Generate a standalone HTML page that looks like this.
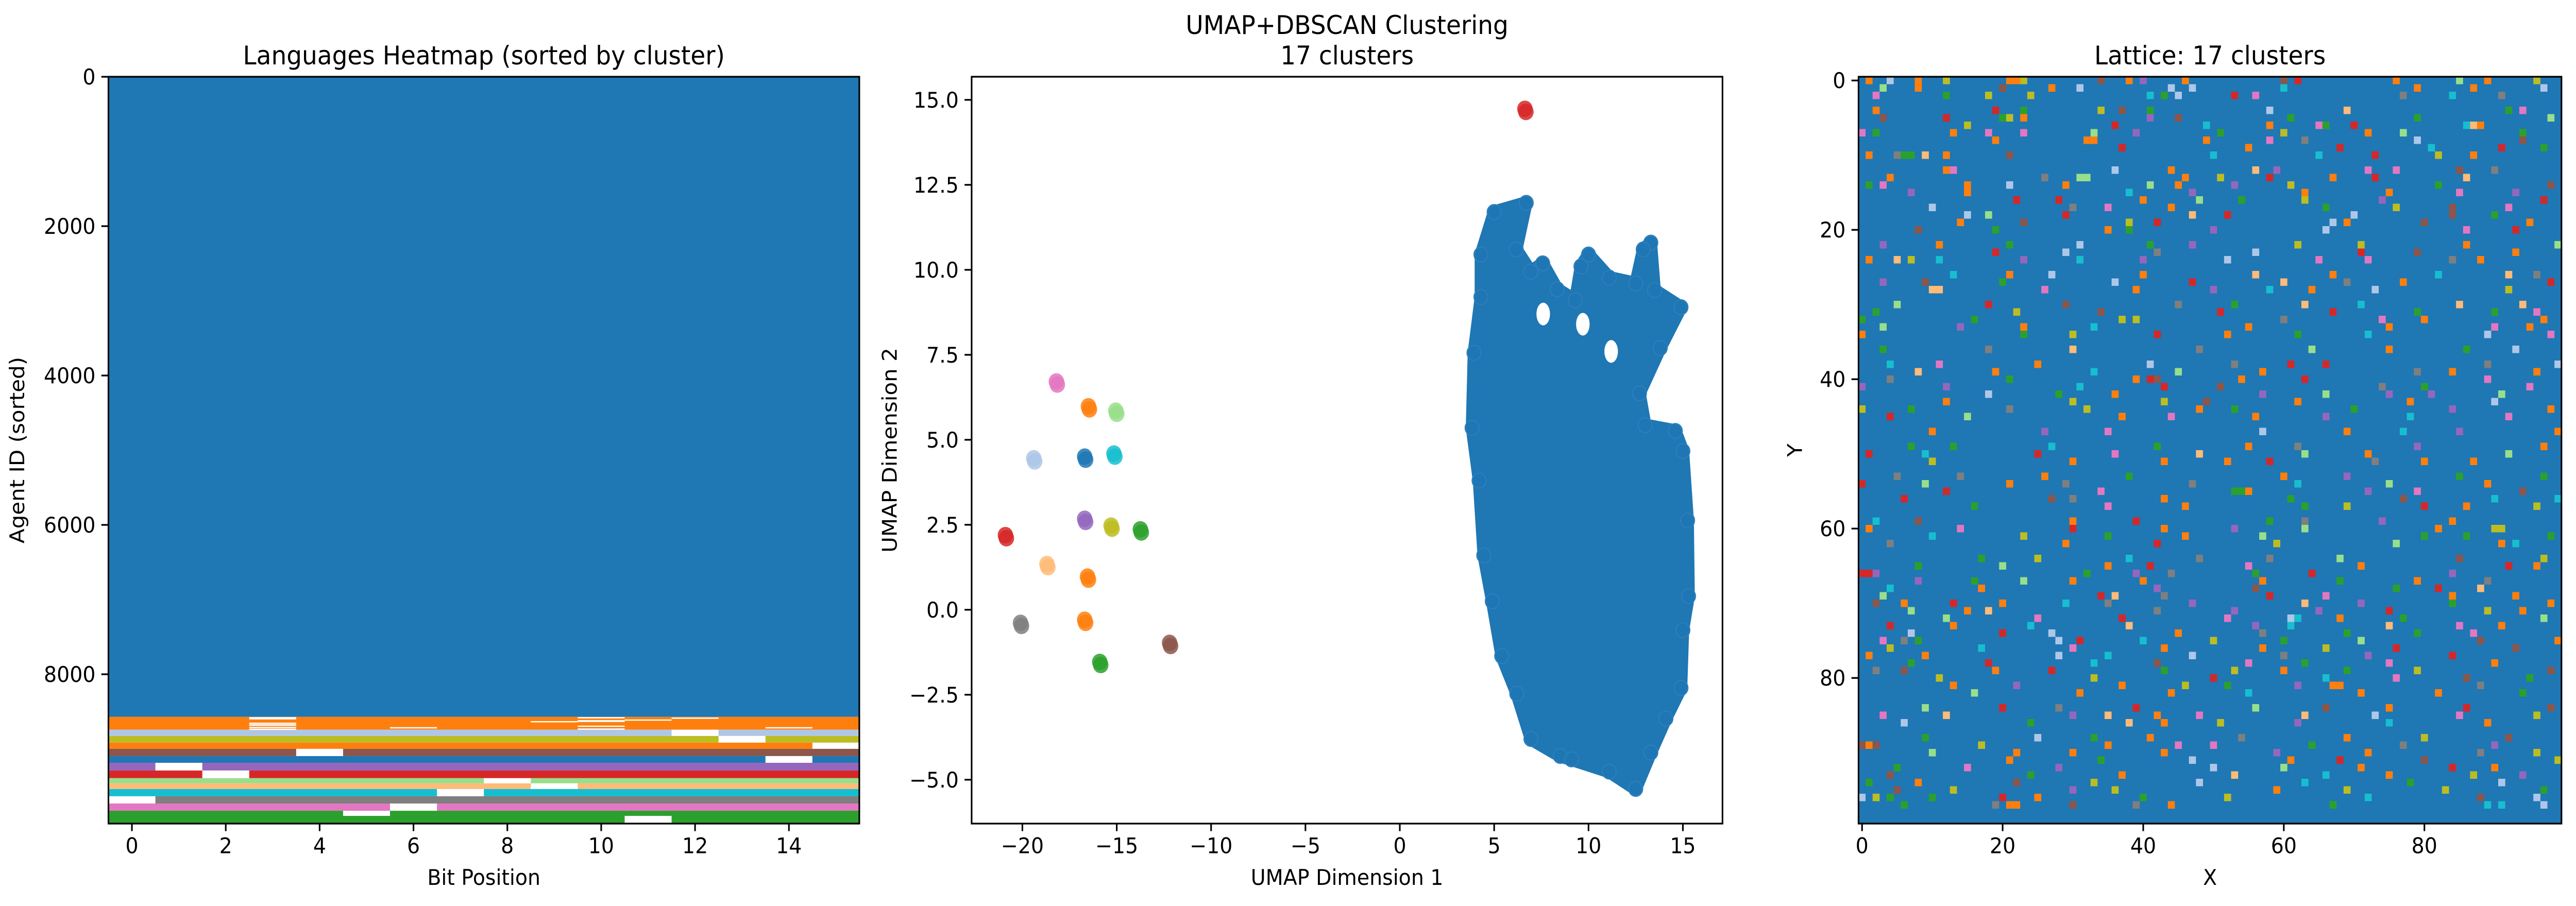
<!DOCTYPE html>
<html><head><meta charset="utf-8"><title>Clustering figure</title>
<style>
html,body{margin:0;padding:0;background:#fff;overflow:hidden;width:100vw;height:100vh;}
svg{display:block;width:100vw;height:100vh;}
text{font-family:"DejaVu Sans","Liberation Sans",sans-serif;fill:#000;}
</style></head>
<body>
<svg id="fig" xmlns="http://www.w3.org/2000/svg" width="5321" height="1759" viewBox="0 0 5321 1759" preserveAspectRatio="none">
<rect x="0" y="0" width="5321" height="1759" fill="#fff"/>
<g id="heat"></g>
<g id="scat"></g>
<g id="latt"></g>
<g id="axes"></g>
</svg>
<script>
// ---------- heatmap data ----------
const bandRows = [8571,172,83,90,83,97,90,103,103,69,76,97,97,97,172];
const bandColors = ["#1f77b4","#ff7f0e","#aec7e8","#bcbd22","#ff7f0e","#8c564b","#1f77b4","#9467bd","#d62728","#98df8a","#ffbb78","#17becf","#7f7f7f","#e377c2","#2ca02c"];
// [bandIndex, bit, startFrac, endFrac]
const zeroBits = [[2,12,0,1],[3,13,0,1],[4,15,0,1],[5,4,0,1],[6,14,0,1],[7,1,0,1],[8,2,0,1],[9,8,0,1],[10,9,0,1],[11,7,0,1],[12,0,0,1],[13,6,0,1],[14,5,0,0.4],[14,11,0.4,1],
 [1,3,0.02,0.06],[1,3,0.1,0.2],[1,3,0.45,0.5],[1,3,0.58,0.7],[1,3,0.78,0.82],[1,3,0.92,0.96],[1,10,0.02,0.06],[1,10,0.25,0.4],[1,10,0.68,0.74],[1,10,0.9,0.94],[1,11,0.2,0.23],[1,12,0.05,0.08],[1,9,0.33,0.36],[1,6,0.8,0.83],[1,14,0.8,0.83]];
const heatXTicks = [0,2,4,6,8,10,12,14];
const heatYTicks = [0,2000,4000,6000,8000];
// ---------- scatter data ----------
const blobX = [6.7,5.0,4.3,4.3,3.93,3.83,4.2,4.45,4.9,5.4,6.2,6.95,8.5,9.1,11.1,12.5,13.3,14.1,14.9,15.0,15.3,15.25,15.0,14.6,13.0,12.7,13.8,14.9,13.5,13.3,12.9,12.5,11.1,10.0,9.6,9.3,8.34,7.57,6.94,6.17];
const blobY = [11.97,11.7,10.45,9.2,7.56,5.35,3.8,1.6,0.25,-1.36,-2.47,-3.8,-4.3,-4.4,-4.76,-5.27,-4.2,-3.2,-2.3,-0.6,0.4,2.63,4.67,5.26,5.43,6.37,7.7,8.9,9.4,10.8,10.6,9.6,9.77,10.45,10.1,9.1,9.43,10.19,9.94,10.6];
const holeX = [7.6,9.7,11.2];
const holeY = [8.7,8.4,7.6];
const clusterX = [6.63,-18.2,-16.5,-15.05,-19.4,-16.7,-15.15,-20.9,-16.7,-15.3,-13.75,-18.7,-16.55,-20.1,-16.7,-12.2,-15.9];
const clusterY = [14.69,6.67,5.94,5.81,4.41,4.46,4.55,2.15,2.63,2.43,2.32,1.3,0.93,-0.43,-0.34,-1.02,-1.58];
const clusterColor = ["#d62728","#e377c2","#ff7f0e","#98df8a","#aec7e8","#1f77b4","#17becf","#d62728","#9467bd","#bcbd22","#2ca02c","#ffbb78","#ff7f0e","#7f7f7f","#ff7f0e","#8c564b","#2ca02c"];
const scatXTicks = [-20,-15,-10,-5,0,5,10,15];
const scatYTicks = [-5.0,-2.5,0.0,2.5,5.0,7.5,10.0,12.5,15.0];
// ---------- lattice data ----------
const latticePalette = ["#ff7f0e","#aec7e8","#bcbd22","#8c564b","#9467bd","#d62728","#98df8a","#ffbb78","#17becf","#7f7f7f","#e377c2","#2ca02c"];
const latticeCells = [
[1,0,0],[4,0,1],[8,0,0],[12,0,2],[21,0,0],[22,0,0],[23,0,2],[34,0,3],[38,0,0],[40,0,4],[46,0,0],[60,0,3],[62,0,5],[76,0,0],[85,0,6],[89,0,0],[96,0,2],
[3,1,6],[8,1,0],[20,1,3],[27,1,0],[31,1,1],[44,1,1],[47,1,1],[60,1,8],[79,1,0],[87,1,0],[97,1,1],
[2,2,10],[12,2,11],[18,2,2],[24,2,2],[41,2,8],[43,2,11],[45,2,1],[53,2,5],[56,2,10],[77,2,9],[84,2,8],[91,2,9],
[2,4,0],[19,4,5],[23,4,11],[34,4,2],[37,4,3],[41,4,11],[58,4,1],[69,4,7],[92,4,11],[94,4,10],
[3,5,3],[12,5,5],[20,5,11],[21,5,2],[23,5,0],[41,5,4],[45,5,3],[61,5,11],[79,5,11],[98,5,6],
[15,6,2],[36,6,5],[49,6,8],[58,6,0],[65,6,10],[66,6,11],[70,6,5],[86,6,8],[87,6,7],[88,6,0],
[0,7,10],[2,7,11],[13,7,0],[18,7,10],[23,7,10],[33,7,6],[39,7,4],[51,7,11],[60,7,2],[72,7,0],[77,7,6],[94,7,11],
[19,8,0],[32,8,0],[33,8,0],[49,8,0],[58,8,10],[63,8,9],[79,8,1],[94,8,3],
[37,9,5],[55,9,0],[68,9,5],[81,9,8],[91,9,5],[97,9,11],
[1,10,0],[5,10,9],[6,10,11],[7,10,11],[9,10,7],[12,10,0],[21,10,3],[50,10,8],[65,10,8],[73,10,5],[82,10,2],[87,10,0],
[12,12,0],[13,12,10],[36,12,1],[44,12,0],[56,12,7],[59,12,4],[72,12,10],[76,12,10],[85,12,3],[90,12,9],
[4,13,0],[26,13,9],[31,13,6],[32,13,6],[46,13,0],[51,13,2],[58,13,5],[67,13,0],[73,13,5],[86,13,7],
[1,14,11],[3,14,10],[15,14,0],[21,14,1],[29,14,0],[41,14,6],[45,14,0],[53,14,4],[61,14,2],[82,14,11],[98,14,3],
[7,15,4],[15,15,0],[38,15,8],[47,15,4],[63,15,0],[75,15,0],[85,15,10],[93,15,4],
[22,16,5],[28,16,5],[40,16,0],[48,16,6],[54,16,11],[63,16,2],[74,16,4],[97,16,5],
[10,17,1],[30,17,9],[35,17,10],[44,17,0],[66,17,11],[76,17,2],[84,17,3],[92,17,10],
[15,18,1],[18,18,6],[29,18,5],[47,18,7],[52,18,5],[70,18,1],[84,18,3],[90,18,11],
[14,19,0],[23,19,3],[38,19,2],[42,19,5],[67,19,1],[69,19,0],[80,19,3],[95,19,0],
[8,20,3],[19,20,11],[35,20,0],[38,20,11],[50,20,4],[66,20,1],[86,20,10],[93,20,5],
[3,22,4],[11,22,0],[21,22,11],[31,22,1],[41,22,11],[47,22,4],[62,22,2],[71,22,2],[86,22,0],[99,22,6],
[19,23,5],[29,23,1],[42,23,9],[56,23,1],[71,23,5],[79,23,3],[93,23,0],
[1,24,0],[5,24,7],[7,24,2],[11,24,8],[23,24,4],[31,24,8],[40,24,4],[52,24,1],[65,24,10],[72,24,10],[84,24,9],[88,24,0],
[13,26,8],[21,26,0],[27,26,1],[40,26,0],[56,26,7],[67,26,0],[82,26,8],[92,26,7],[96,26,9],
[3,27,4],[9,27,3],[20,27,11],[36,27,1],[47,27,5],[60,27,7],[69,27,9],[77,27,0],[98,27,5],
[10,28,7],[11,28,7],[26,28,10],[39,28,0],[50,28,4],[58,28,8],[64,28,0],[73,28,1],[92,28,2],
[5,30,6],[18,30,5],[29,30,3],[45,30,9],[53,30,11],[63,30,7],[71,30,8],[85,30,7],[94,30,7],
[2,31,11],[22,31,2],[34,31,3],[51,31,5],[67,31,5],[79,31,11],[90,31,11],[96,31,10],
[0,32,11],[16,32,11],[37,32,2],[39,32,2],[60,32,9],[74,32,10],[80,32,0],[97,32,0],
[3,33,6],[14,33,4],[23,33,0],[33,33,8],[55,33,0],[75,33,0],[90,33,10],[95,33,0],
[0,34,0],[23,34,11],[30,34,2],[42,34,5],[52,34,0],[62,34,11],[72,34,8],[89,34,1],[98,34,10],
[3,36,11],[18,36,9],[30,36,7],[48,36,9],[64,36,6],[75,36,0],[86,36,11],[93,36,1],
[4,38,8],[11,38,10],[25,38,0],[41,38,1],[53,38,9],[61,38,5],[66,38,5],[89,38,9],[99,38,1],
[8,39,7],[19,39,0],[33,39,8],[45,39,6],[57,39,0],[79,39,9],[84,39,0],[96,39,0],
[4,40,9],[21,40,11],[39,40,0],[41,40,5],[42,40,3],[54,40,0],[63,40,5],[89,40,10],
[0,41,4],[12,41,4],[31,41,8],[43,41,5],[51,41,3],[74,41,9],[80,41,11],[95,41,10],
[18,42,1],[28,42,11],[36,42,0],[57,42,4],[66,42,6],[75,42,4],[81,42,4],[91,42,6],
[12,43,0],[30,43,2],[43,43,2],[49,43,3],[62,43,0],[78,43,0],[90,43,1],
[0,44,2],[7,44,11],[21,44,9],[32,44,2],[48,44,0],[53,44,11],[70,44,11],[84,44,4],[98,44,0],
[4,45,5],[15,45,6],[37,45,0],[44,45,10],[56,45,0],[66,45,4],[78,45,8],[92,45,10],
[10,47,0],[26,47,4],[35,47,10],[57,47,1],[69,47,0],[77,47,8],[85,47,4],[99,47,0],
[7,49,11],[13,49,11],[27,49,8],[42,49,11],[55,49,0],[62,49,9],[79,49,4],[97,49,0],
[1,50,5],[9,50,8],[25,50,5],[36,50,10],[48,50,7],[63,50,6],[72,50,0],[92,50,6],
[10,51,2],[30,51,0],[43,51,0],[52,51,0],[58,51,5],[73,51,9],[80,51,0],[87,51,0],
[5,53,9],[14,53,9],[26,53,0],[38,53,11],[60,53,0],[69,53,4],[85,53,11],[97,53,11],
[0,54,5],[9,54,6],[21,54,0],[29,54,9],[47,54,9],[62,54,8],[75,54,6],[89,54,0],
[12,55,5],[34,55,10],[53,55,11],[54,55,11],[55,55,0],[72,55,4],[79,55,10],[94,55,3],
[6,56,5],[27,56,3],[30,56,9],[43,56,0],[61,56,11],[77,56,3],[90,56,8],[99,56,8],
[16,57,11],[35,57,10],[46,57,0],[63,57,11],[69,57,2],[80,57,5],[86,57,0],[96,57,2],
[2,59,8],[8,59,3],[30,59,0],[39,59,5],[58,59,11],[63,59,9],[74,59,4],[84,59,0],
[1,60,0],[14,60,10],[30,60,5],[43,60,0],[53,60,4],[63,60,6],[82,60,0],[90,60,2],[91,60,2],
[10,61,8],[23,61,2],[35,61,11],[46,61,0],[57,61,6],[80,61,11],[86,61,11],[98,61,11],
[4,62,9],[29,62,0],[42,62,5],[59,62,2],[76,62,6],[91,62,0],[93,62,8],
[17,64,11],[25,64,2],[38,64,8],[48,64,9],[58,64,9],[68,64,6],[85,64,3],[97,64,2],
[8,65,11],[20,65,6],[35,65,0],[41,65,5],[55,65,10],[71,65,0],[92,65,5],[96,65,0],
[0,66,5],[1,66,5],[2,66,4],[32,66,11],[39,66,4],[44,66,9],[56,66,11],[64,66,5],[84,66,4],
[8,67,4],[16,67,11],[23,67,6],[30,67,0],[40,67,0],[57,67,0],[68,67,11],[79,67,0],[89,67,9],
[4,68,8],[17,68,0],[42,68,4],[56,68,3],[76,68,11],[82,68,5],[88,68,7],
[3,69,6],[34,69,5],[36,69,7],[43,69,9],[58,69,5],[66,69,10],[84,69,0],[93,69,0],
[2,70,3],[6,70,0],[13,70,5],[20,70,0],[29,70,8],[35,70,9],[47,70,4],[63,70,7],[71,70,4],[84,70,11],[98,70,0],
[7,71,6],[15,71,0],[18,71,7],[42,71,9],[53,71,4],[65,71,4],[75,71,5],[89,71,2],[94,71,0],
[12,72,6],[25,72,10],[37,72,5],[52,72,10],[61,72,1],[62,72,8],[68,72,0],[77,72,11],[97,72,6],
[4,73,5],[13,73,0],[24,73,8],[38,73,7],[56,73,4],[61,73,8],[75,73,7],[85,73,10],[91,73,0],
[7,74,1],[20,74,5],[27,74,1],[45,74,0],[57,74,9],[69,74,11],[79,74,11],[87,74,10],
[3,75,10],[6,75,9],[8,75,11],[28,75,1],[31,75,5],[40,75,8],[50,75,2],[60,75,11],[71,75,6],[88,75,3],[99,75,0],
[4,76,2],[17,76,8],[30,76,10],[43,76,0],[57,76,0],[66,76,2],[76,76,5],[93,76,3],
[1,77,0],[9,77,0],[28,77,1],[35,77,8],[47,77,1],[60,77,9],[72,77,4],[84,77,5],
[7,78,11],[18,78,5],[33,78,8],[42,78,3],[55,78,10],[63,78,11],[75,78,10],[90,78,0],
[2,79,9],[6,79,3],[19,79,0],[27,79,5],[43,79,11],[53,79,2],[60,79,0],[69,79,11],[79,79,2],[98,79,3],
[11,80,2],[33,80,2],[50,80,5],[66,80,8],[76,80,10],[86,80,3],[95,80,11],
[13,81,0],[22,81,4],[37,81,0],[46,81,2],[52,81,11],[62,81,4],[67,81,0],[68,81,0],[88,81,9],
[16,82,6],[31,82,0],[44,82,0],[55,82,8],[71,82,0],[82,82,0],[94,82,11],
[9,84,6],[20,84,5],[28,84,9],[39,84,5],[56,84,6],[66,84,3],[75,84,0],[86,84,5],[98,84,3],
[3,85,10],[12,85,7],[30,85,4],[35,85,7],[42,85,0],[48,85,10],[63,85,7],[73,85,1],[85,85,10],[96,85,2],
[6,86,1],[24,86,11],[38,86,7],[43,86,0],[51,86,2],[62,86,4],[75,86,8],[89,86,0],
[9,88,11],[25,88,1],[33,88,11],[41,88,0],[54,88,9],[69,88,0],[80,88,2],[92,88,3],
[0,89,3],[1,89,0],[2,89,3],[17,89,2],[35,89,0],[45,89,10],[50,89,10],[64,89,11],[77,89,9],[90,89,4],
[10,90,6],[22,90,0],[30,90,0],[43,90,0],[59,90,4],[72,90,0],[88,90,9],[96,90,2],
[21,91,0],[34,91,11],[47,91,1],[61,91,0],[68,91,5],[80,91,3],[99,91,2],
[5,92,11],[15,92,10],[28,92,4],[50,92,1],[60,92,6],[71,92,0],[84,92,5],[90,92,0],
[4,93,3],[24,93,11],[37,93,0],[53,93,7],[66,93,8],[75,93,0],[87,93,2],[94,93,4],
[1,94,11],[8,94,0],[22,94,3],[33,94,2],[48,94,1],[63,94,8],[78,94,11],[91,94,1],
[5,95,3],[13,95,2],[30,95,4],[36,95,2],[59,95,0],[69,95,2],[83,95,2],[97,95,11],
[0,96,1],[2,96,2],[4,96,11],[10,96,11],[20,96,5],[25,96,0],[40,96,11],[52,96,2],[72,96,8],[88,96,3],[96,96,1],
[6,97,11],[19,97,9],[21,97,0],[22,97,0],[30,97,3],[39,97,9],[44,97,0],[67,97,11],[89,97,8],[91,97,8],[97,97,1]
];
const latXTicks = [0,20,40,60,80];
const latYTicks = [0,20,40,60,80];

// ---------- helpers ----------
const NS = "http://www.w3.org/2000/svg";
function mk(parent, tag, attrs, txt){
  const e = document.createElementNS(NS, tag);
  for (const k in attrs) e.setAttribute(k, attrs[k]);
  if (txt !== undefined) e.textContent = txt;
  parent.appendChild(e);
  return e;
}
const TOP = 149, BOT = 1599, FS = 42, LW = 3.3, TL = 14.6;
const axesG = document.getElementById("axes");

function frame(x0,x1,name){
  const r = mk(axesG,"rect",{x:x0,y:TOP,width:x1-x0,height:BOT-TOP,fill:"none",stroke:"#000","stroke-width":LW});
  
  
}
function xtick(px,label,name){
  const l = mk(axesG,"line",{x1:px,x2:px,y1:BOT,y2:BOT+TL,stroke:"#000","stroke-width":LW});
  
  
  const t = mk(axesG,"text",{x:px,y:BOT+TL+12+31,"font-size":FS,"text-anchor":"middle"},label);
  
  
}
function ytick(x0,py,label,name){
  const l = mk(axesG,"line",{x1:x0-TL,x2:x0,y1:py,y2:py,stroke:"#000","stroke-width":LW});
  
  
  const t = mk(axesG,"text",{x:x0-TL-12,y:py+15,"font-size":FS,"text-anchor":"end"},label);
  
  
}
function label(x,y,txt,name,rot,size){
  const a = {x:x,y:y,"font-size":size||FS,"text-anchor":"middle"};
  if (rot) a.transform = "rotate(-90 "+x+" "+y+")";
  const t = mk(axesG,"text",a,txt);
  
  
}
function fmtMinus(v){ return String(v).replace("-","\u2212"); }

// ---------- heatmap ----------
const HX0=224, HX1=1775, NBITS=16, NROWS=bandRows.reduce((a,b)=>a+b,0);
function hx(b){ return HX0 + (b+0.5)*(HX1-HX0)/NBITS; }
function hy(r){ return TOP + (r+0.5)*(BOT-TOP)/NROWS; }
const heatG = document.getElementById("heat");
const bandStart = [];
{ let acc=0; for (let i=0;i<bandRows.length;i++){ bandStart.push(acc); acc+=bandRows[i]; } }
for (let i=0;i<bandRows.length;i++){
  const y0 = hy(bandStart[i]-0.5), y1 = hy(bandStart[i]+bandRows[i]-0.5);
  const r = mk(heatG,"rect",{x:HX0,y:y0,width:HX1-HX0,height:y1-y0,fill:bandColors[i]});
  
  
}
for (const z of zeroBits){
  const [bi,bit,f0,f1] = z;
  const y0 = hy(bandStart[bi]+f0*bandRows[bi]-0.5), y1 = hy(bandStart[bi]+f1*bandRows[bi]-0.5);
  const r = mk(heatG,"rect",{x:hx(bit-0.5),y:y0,width:hx(bit+0.5)-hx(bit-0.5),height:Math.max(2.5,y1-y0),fill:"#fff"});
  
  
}
frame(HX0,HX1,'heatmap-frame');
heatXTicks.forEach(v=>xtick(hx(v),String(v),'heatmap-x'));
heatYTicks.forEach(v=>ytick(HX0,hy(v),String(v),'heatmap-y'));
label((HX0+HX1)/2,125,"Languages Heatmap (sorted by cluster)","heatmap-title",false,50);
label((HX0+HX1)/2,1718,"Bit Position","heatmap-x-title");
label(50,(TOP+BOT)/2,"Agent ID (sorted)","heatmap-y-title",true);

// ---------- scatter ----------
const SX0=2007, SX1=3558, XMIN=-22.69, XMAX=17.1, YMIN=-6.29, YMAX=15.68;
function mx(v){ return SX0 + (v-XMIN)*(SX1-SX0)/(XMAX-XMIN); }
function my(v){ return TOP + (YMAX-v)*(BOT-TOP)/(YMAX-YMIN); }
const scatG = document.getElementById("scat");
{
  const pts = blobX.map((x,i)=>mx(x)+","+my(blobY[i])).join(" ");
  const p = mk(scatG,"polygon",{points:pts,fill:"#1f77b4",stroke:"#1f77b4","stroke-width":26,"stroke-linejoin":"round"});
  
  
  holeX.forEach((x,i)=>{
    const h = mk(scatG,"ellipse",{cx:mx(x),cy:my(holeY[i]),rx:14,ry:22,fill:"#fff"});
    
    
  });
  blobX.forEach((x,i)=>{
    const c = mk(scatG,"circle",{cx:mx(x),cy:my(blobY[i]),r:14.5,fill:"#1f77b4","fill-opacity":0.85,stroke:"#2f7fba","stroke-width":2});
    
    
  });
}
clusterX.forEach((x,i)=>{
  const g = mk(scatG,"g",{});
  
  
  const cx = mx(x), cy = my(clusterY[i]);
  mk(g,"circle",{cx:cx,cy:cy-3,r:16,fill:clusterColor[i],"fill-opacity":0.85});
  mk(g,"circle",{cx:cx+2,cy:cy+3,r:16,fill:clusterColor[i],"fill-opacity":0.85});
});
frame(SX0,SX1,'scatter-frame');
scatXTicks.forEach(v=>xtick(mx(v),fmtMinus(v),'scatter-x'));
scatYTicks.forEach(v=>ytick(SX0,my(v),fmtMinus(v.toFixed(1)),'scatter-y'));
label((SX0+SX1)/2,66,"UMAP+DBSCAN Clustering","scatter-title-line1",false,50);
label((SX0+SX1)/2,125,"17 clusters","scatter-title-line2",false,50);
label((SX0+SX1)/2,1718,"UMAP Dimension 1","scatter-x-title");
label(1852,(TOP+BOT)/2,"UMAP Dimension 2","scatter-y-title",true);

// ---------- lattice ----------
const LX0=3839, LX1=5291, NL=100;
function lx(c){ return LX0 + (c+0.5)*(LX1-LX0)/NL; }
function ly(r){ return TOP + (r+0.5)*(BOT-TOP)/NL; }
const lattG = document.getElementById("latt");
{
  const bg = mk(lattG,"rect",{x:LX0,y:TOP,width:LX1-LX0,height:BOT-TOP,fill:"#1f77b4"});
  
  
  const cw=(LX1-LX0)/NL, ch=(BOT-TOP)/NL;
  latticeCells.forEach(c=>{
    const r = mk(lattG,"rect",{x:lx(c[0])-cw/2,y:ly(c[1])-ch/2,width:cw,height:ch,fill:latticePalette[c[2]]});
    
    
  });
}
frame(LX0,LX1,'lattice-frame');
latXTicks.forEach(v=>xtick(lx(v),String(v),'lattice-x'));
latYTicks.forEach(v=>ytick(LX0,ly(v),String(v),'lattice-y'));
label((LX0+LX1)/2,125,"Lattice: 17 clusters","lattice-title",false,50);
label((LX0+LX1)/2,1718,"X","lattice-x-title");
label(3722,(TOP+BOT)/2,"Y","lattice-y-title",true);
</script>
</body></html>
